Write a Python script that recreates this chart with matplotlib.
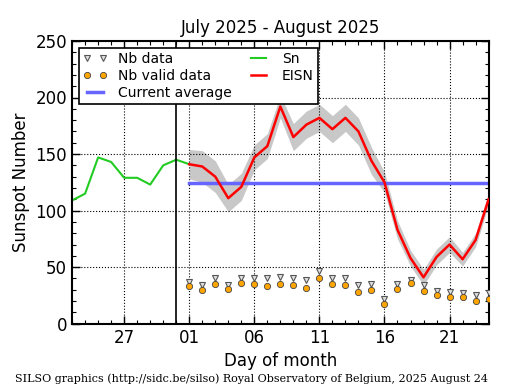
import numpy as np
import matplotlib.pyplot as plt
from matplotlib.ticker import MultipleLocator, FixedLocator

# days relative to 1 August 2025 (0 = Aug 1)
sn_days = list(range(-9, 1))
sn_vals = [109, 115, 147, 143, 129, 129, 123, 140, 145, 141]

eisn_days = list(range(0, 24))
eisn_vals = [141, 139, 130, 111, 121, 147, 157, 192, 165, 176, 182, 172, 182, 170,
             144, 125, 83, 58, 41, 59, 70, 57, 74, 110]
eisn_err = [13, 14, 14, 12, 12, 11, 11, 10, 12, 12, 12, 12, 12, 12,
            12, 9, 8, 7, 7, 7, 7, 6, 6, 5]

nb_data = [37, 34, 40, 34, 40, 40, 40, 41, 40, 39, 47, 40, 40, 34,
           35, 22, 35, 39, 34, 29, 28, 27, 25, 27]
nb_valid = [33, 30, 35, 31, 36, 35, 33, 35, 34, 32, 40, 35, 34, 28,
            30, 17, 31, 36, 29, 25, 24, 24, 20, 22]

current_avg = 124.5
tick_pos = [-5, 0, 5, 10, 15, 20]
tick_lab = ['27', '01', '06', '11', '16', '21']

fig = plt.figure(figsize=(5.15, 3.9), dpi=100)
ax = fig.add_axes([0.140, 0.170, 0.810, 0.725])

lo = np.array(eisn_vals) - np.array(eisn_err)
hi = np.array(eisn_vals) + np.array(eisn_err)
ax.fill_between(eisn_days, lo, hi, color='#c8c8c8', lw=0, zorder=1)

ax.plot(eisn_days, nb_data, 'v', ls='none', ms=4.5, mfc='#e0e0e0', mec='#555555',
        mew=0.8, label='Nb data', zorder=3)
ax.plot(eisn_days, nb_valid, 'o', ls='none', ms=4.5, mfc='#ffa500', mec='#444444',
        mew=0.6, label='Nb valid data', zorder=4)
ax.plot([0, 23.5], [current_avg, current_avg], color='#6666ff', lw=2.5,
        label='Current average', zorder=2)
ax.plot(sn_days, sn_vals, color='#22cc22', lw=1.5, label='Sn', zorder=2)
ax.plot(eisn_days, eisn_vals, color='red', lw=1.8, label='EISN', zorder=3)

ax.axvline(-1, color='black', lw=1.2, zorder=2)

ax.set_xlim(-9, 23.05)
ax.set_ylim(0, 250)
ax.xaxis.set_major_locator(FixedLocator(tick_pos))
ax.set_xticklabels(tick_lab)
ax.xaxis.set_minor_locator(MultipleLocator(1))
ax.yaxis.set_major_locator(MultipleLocator(50))
ax.yaxis.set_minor_locator(MultipleLocator(10))
ax.tick_params(which='both', direction='in', top=True, right=True, labelsize=12)
ax.tick_params(which='major', length=6, width=1)
ax.tick_params(which='minor', length=3, width=0.8)
ax.grid(True, which='major', ls=':', color='black', lw=0.8)
for s in ax.spines.values():
    s.set_linewidth(1.5)

ax.set_title('July 2025 - August 2025', fontsize=12)
ax.set_xlabel('Day of month', fontsize=12)
ax.set_ylabel('Sunspot Number', fontsize=12)

leg = ax.legend(loc='upper left', ncol=2, numpoints=2, fontsize=10,
                fancybox=False, edgecolor='black', framealpha=1,
                handlelength=1.7, columnspacing=1.1, borderpad=0.3,
                labelspacing=0.2, handletextpad=0.8)
leg.get_frame().set_linewidth(1.2)

fig.text(0.03, 0.02, 'SILSO graphics (http://sidc.be/silso) Royal Observatory of Belgium, 2025 August 24',
         family='DejaVu Serif', fontsize=8)

fig.savefig('out.png', dpi=100)
